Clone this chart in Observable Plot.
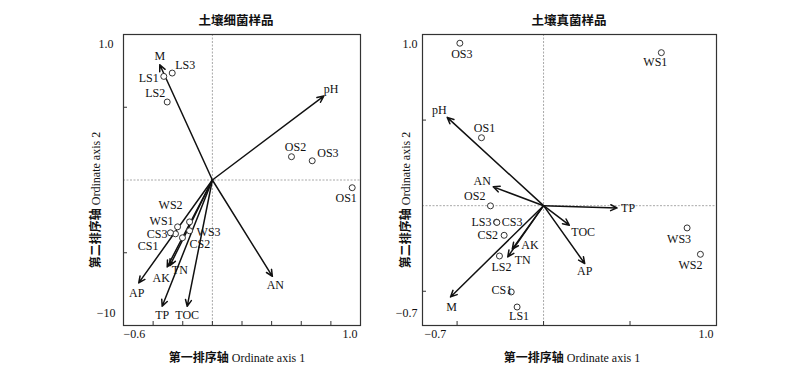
<!DOCTYPE html>
<html>
<head>
<meta charset="utf-8">
<script src="https://cdn.jsdelivr.net/npm/d3@7"></script>
<script src="https://cdn.jsdelivr.net/npm/@observablehq/plot@0.6"></script>
<style>
  body { margin: 0; background: white; }
  #wrap { position: relative; width: 800px; height: 376px; background: white; overflow: hidden; }
  .panel { position: absolute; top: 0; }
  .title { position: absolute; font-family: "Noto Sans CJK SC", sans-serif; font-weight: 700; font-size: 12.5px; white-space: nowrap; transform: translate(-50%, -50%); color: #111; }
  .axlab { position: absolute; white-space: nowrap; font-size: 12px; color: #111; }
  .axlab .zh { font-family: "Noto Sans CJK SC", sans-serif; font-weight: 700; }
  .axlab .en { font-family: "Liberation Serif", serif; }
  .xl { transform: translate(-50%, -50%); }
  .yl { transform: translate(-50%, -50%) rotate(-90deg); }
</style>
</head>
<body>
<div id="wrap"></div>
<script>
// ---------- Left panel: 土壤细菌样品 ----------
const bacTitle = "土壤细菌样品";
const bacSamples = ["LS1","LS2","LS3","OS1","OS2","OS3","WS1","WS2","WS3","CS1","CS2","CS3"];
const bacSampleX = [-0.328,-0.305,-0.271,0.944,0.534,0.674,-0.235,-0.154,-0.154,-0.249,-0.202,-0.283];
const bacSampleY = [0.712,0.536,0.735,-0.053,0.160,0.132,-0.322,-0.288,-0.349,-0.370,-0.397,-0.363];
const bacVars = ["M","pH","AN","AP","TP","TOC","AK","TN"];
const bacVarX = [-0.355,0.752,0.405,-0.497,-0.339,-0.170,-0.305,-0.287];
const bacVarY = [0.792,0.577,-0.662,-0.707,-0.868,-0.868,-0.598,-0.589];
const bacXDomain = [-0.6, 1.0];
const bacYDomain = [-1.0, 1.0];
const bacXTicks = [-0.4,-0.2,0,0.2,0.4,0.6,0.8];
const bacYTicks = [-0.5,0.5];
const bacXTickLabels = ["−0.6","1.0"];
const bacYTickLabels = ["−10","1.0"];

// ---------- Right panel: 土壤真菌样品 ----------
const fungTitle = "土壤真菌样品";
const fungSamples = ["OS3","WS1","OS1","OS2","LS3","CS3","CS2","LS2","CS1","LS1","WS3","WS2"];
const fungSampleX = [-0.484,0.681,-0.359,-0.307,-0.272,-0.270,-0.228,-0.255,-0.187,-0.153,0.830,0.907];
const fungSampleY = [0.949,0.894,0.397,-0.001,-0.096,-0.098,-0.173,-0.294,-0.504,-0.592,-0.130,-0.284];
const fungVars = ["pH","AN","TP","TOC","AP","AK","TN","M"];
const fungVarX = [-0.557,-0.291,0.425,0.149,0.238,-0.181,-0.207,-0.538];
const fungVarY = [0.516,0.110,-0.013,-0.114,-0.338,-0.254,-0.299,-0.533];
const fungXDomain = [-0.7, 1.0];
const fungYDomain = [-0.7, 1.0];
const fungXTicks = [-0.5,0,0.5];
const fungYTicks = [-0.5,0.5];
const fungXTickLabels = ["−0.7","1.0"];
const fungYTickLabels = ["−0.7","1.0"];

const xAxisTitleZh = "第一排序轴";
const xAxisTitleEn = "Ordinate axis 1";
const yAxisTitleZh = "第二排序轴";
const yAxisTitleEn = "Ordinate axis 2";

// ---------- label placement (styling only: pixel offsets & anchors) ----------
const bacSampleLabelStyle = {
  LS1:[-5,2,"end"], LS2:[-2,-9,"end"], LS3:[3,-8,"start"],
  OS1:[-6,10,"middle"], OS2:[4,-10,"middle"], OS3:[5,-8,"start"],
  WS1:[-4,-6,"end"], WS2:[-7,-17,"end"], WS3:[7,1,"start"],
  CS1:[-17,12,"end"], CS2:[7,6,"start"], CS3:[-3,1,"end"]
};
const bacVarLabelStyle = {
  M:[0,-9,"middle"], pH:[0,-7,"start"], AN:[3,9,"middle"], AP:[-2,10,"middle"],
  TP:[0,9,"middle"], TOC:[0,9,"middle"], AK:[-6,11,"middle"], TN:[2,4,"start"]
};
const fungSampleLabelStyle = {
  OS3:[2,11,"middle"], WS1:[-6,10,"middle"], OS1:[3,-10,"middle"], OS2:[-5,-10,"end"],
  LS3:[-5,0,"end"], CS3:[5,0,"start"], CS2:[-6,0,"end"], LS2:[2,11,"middle"],
  CS1:[1,-2,"end"], LS1:[2,9,"middle"], WS3:[-8,11,"middle"], WS2:[-10,11,"middle"]
};
const fungVarLabelStyle = {
  pH:[-8,-7,"middle"], AN:[-11,-6,"middle"], TP:[4,0,"start"], TOC:[2,7,"start"],
  AP:[0,8,"middle"], AK:[9,-4,"start"], TN:[7,3,"start"], M:[1,10,"middle"]
};

function labelMarks(names, xs, ys, style) {
  return names.map((n, i) => {
    const [dx, dy, anchor] = style[n];
    return Plot.text([i], {x: j => xs[j], y: j => ys[j], text: j => names[j],
      dx, dy, textAnchor: anchor, fill: "#111", fontSize: 12});
  });
}

function makePanel(cfg) {
  const idx = cfg.samples.map((_, i) => i);
  const vidx = cfg.vars.map((_, i) => i);
  return Plot.plot({
    width: cfg.w, height: 376,
    marginLeft: cfg.ml, marginRight: cfg.mr, marginTop: 34, marginBottom: 51,
    style: {fontFamily: "'Liberation Serif', serif", fontSize: "12px", background: "transparent", color: "#111"},
    x: {domain: cfg.xDomain, axis: null},
    y: {domain: cfg.yDomain, axis: null},
    marks: [
      Plot.ruleX([0], {stroke: "#a8a8a8", strokeDasharray: "2,1.5", strokeWidth: 1}),
      Plot.ruleY([0], {stroke: "#a8a8a8", strokeDasharray: "2,1.5", strokeWidth: 1}),
      Plot.axisX({ticks: cfg.xTicks, tickSize: -4, tickFormat: () => "", label: null, anchor: "bottom", stroke: "#333"}),
      Plot.axisY({ticks: cfg.yTicks, tickSize: -4, tickFormat: () => "", label: null, anchor: "left", stroke: "#333"}),
      Plot.frame({stroke: "#333", strokeWidth: 1.2}),
      Plot.arrow(vidx, {x1: () => 0, y1: () => 0, x2: j => cfg.varX[j], y2: j => cfg.varY[j],
        stroke: "#111", strokeWidth: 1.5, headLength: 7, headAngle: 50}),
      Plot.dot(idx, {x: j => cfg.sampleX[j], y: j => cfg.sampleY[j], r: 3, stroke: "#333", fill: "white", strokeWidth: 1}),
      ...labelMarks(cfg.vars, cfg.varX, cfg.varY, cfg.varStyle),
      ...labelMarks(cfg.samples, cfg.sampleX, cfg.sampleY, cfg.sampleStyle),
      // axis end labels
      Plot.text([0], {x: () => cfg.xDomain[0], text: () => cfg.xTickLabels[0], frameAnchor: "bottom", dy: 12, dx: cfg.xl0dx, textAnchor: "start", fontSize: 12}),
      Plot.text([0], {x: () => cfg.xDomain[1], text: () => cfg.xTickLabels[1], frameAnchor: "bottom", dy: 12, dx: -3, textAnchor: "end", fontSize: 12}),
      Plot.text([0], {y: () => cfg.yDomain[1], text: () => cfg.yTickLabels[1], frameAnchor: "left", dx: cfg.ylTopDx, dy: 10, textAnchor: "end", fontSize: 12}),
      Plot.text([0], {y: () => cfg.yDomain[0], text: () => cfg.yTickLabels[0], frameAnchor: "left", dx: cfg.ylBotDx, dy: -12, textAnchor: "end", fontSize: 12})
    ]
  });
}

const wrap = document.getElementById("wrap");

const left = makePanel({
  samples: bacSamples, sampleX: bacSampleX, sampleY: bacSampleY,
  vars: bacVars, varX: bacVarX, varY: bacVarY,
  xDomain: bacXDomain, yDomain: bacYDomain, xTicks: bacXTicks, yTicks: bacYTicks,
  xTickLabels: bacXTickLabels, yTickLabels: bacYTickLabels,
  sampleStyle: bacSampleLabelStyle, varStyle: bacVarLabelStyle,
  w: 380, ml: 123, mr: 20, xl0dx: 0, ylTopDx: -10, ylBotDx: -8
});
left.classList.add("panel"); left.style.left = "0px";
wrap.appendChild(left);

const right = makePanel({
  samples: fungSamples, sampleX: fungSampleX, sampleY: fungSampleY,
  vars: fungVars, varX: fungVarX, varY: fungVarY,
  xDomain: fungXDomain, yDomain: fungYDomain, xTicks: fungXTicks, yTicks: fungYTicks,
  xTickLabels: fungXTickLabels, yTickLabels: fungYTickLabels,
  sampleStyle: fungSampleLabelStyle, varStyle: fungVarLabelStyle,
  w: 420, ml: 42, mr: 84, xl0dx: 2, ylTopDx: -5, ylBotDx: -5
});
right.classList.add("panel"); right.style.left = "380px";
wrap.appendChild(right);

function addDiv(cls, html, x, y) {
  const d = document.createElement("div");
  d.className = cls; d.innerHTML = html;
  d.style.left = x + "px"; d.style.top = y + "px";
  wrap.appendChild(d);
}
addDiv("title", bacTitle, 236, 19);
addDiv("title", fungTitle, 569, 19);
const axTitle = (zh, en) => `<span class="zh">${zh}</span> <span class="en">${en}</span>`;
addDiv("axlab xl", axTitle(xAxisTitleZh, xAxisTitleEn), 237, 357);
addDiv("axlab xl", axTitle(xAxisTitleZh, xAxisTitleEn), 572, 357);
addDiv("axlab yl", axTitle(yAxisTitleZh, yAxisTitleEn), 95, 200);
addDiv("axlab yl", axTitle(yAxisTitleZh, yAxisTitleEn), 405, 200);
</script>
</body>
</html>
